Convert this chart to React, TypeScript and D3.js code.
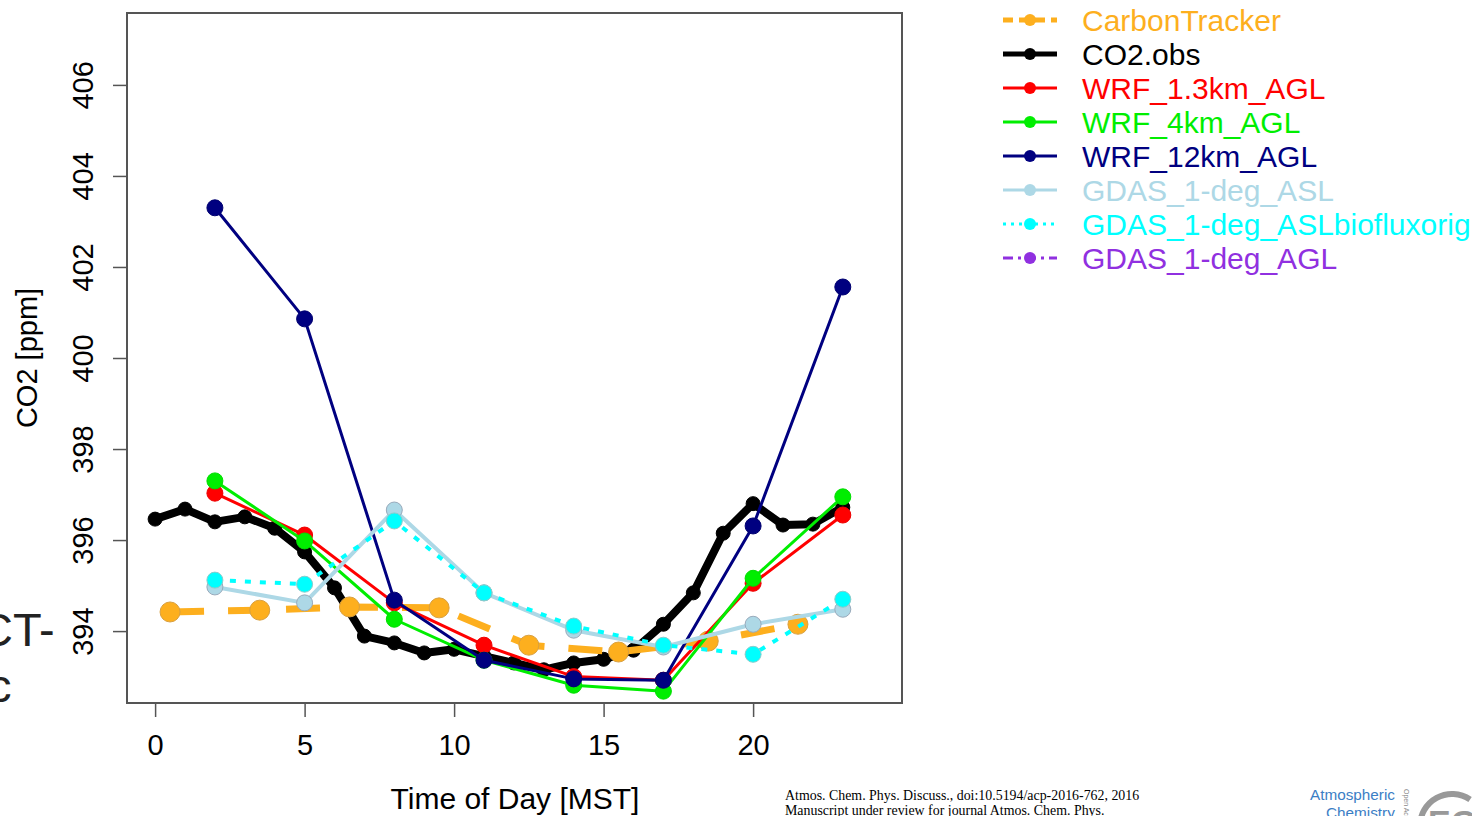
import React, { useEffect, useRef } from "react";
import * as d3 from "d3";

// hours of day (MST)
const obsHours = [0, 1, 2, 3, 4, 5, 6, 7, 8, 9, 10, 11, 12, 13, 14, 15, 16, 17, 18, 19, 20, 21, 22, 23];
const modelHours = [2, 5, 8, 11, 14, 17, 20, 23];
const ctHours = [0.5, 3.5, 6.5, 9.5, 12.5, 15.5, 18.5, 21.5];

// CO2 [ppm]
const co2Obs = [396.46, 396.68, 396.4, 396.51, 396.26, 395.74, 394.95, 393.89, 393.74, 393.52, 393.6, 393.45, 393.3, 393.15, 393.3, 393.38, 393.58, 394.15, 394.84, 396.15, 396.8, 396.33, 396.35, 396.72];
const carbonTracker = [394.42, 394.46, 394.53, 394.51, 393.69, 393.54, 393.78, 394.15];
const wrf13km = [397.03, 396.11, 394.62, 393.69, 393.0, 392.92, 395.05, 396.55];
const wrf4km = [397.3, 395.98, 394.26, 393.36, 392.81, 392.68, 395.16, 396.95];
const wrf12km = [403.3, 400.86, 394.68, 393.36, 392.95, 392.92, 396.31, 401.56];
const gdasAsl = [394.97, 394.62, 396.66, 394.84, 394.02, 393.65, 394.15, 394.48];
const gdasBioflux = [395.12, 395.03, 396.42, 394.84, 394.11, 393.69, 393.49, 394.7];

const yTicks = [394, 396, 398, 400, 402, 404, 406];
const xTicks = [0, 5, 10, 15, 20];

const legendItems = [
  { name: "CarbonTracker", color: "#FDAF1E", dash: "10 6", width: 5 },
  { name: "CO2.obs", color: "#000000", dash: null, width: 5 },
  { name: "WRF_1.3km_AGL", color: "#FF0000", dash: null, width: 3 },
  { name: "WRF_4km_AGL", color: "#00EE00", dash: null, width: 3 },
  { name: "WRF_12km_AGL", color: "#000080", dash: null, width: 3 },
  { name: "GDAS_1-deg_ASL", color: "#ADD8E6", dash: null, width: 3 },
  { name: "GDAS_1-deg_ASLbiofluxorig", color: "#00FFFF", dash: "3 5", width: 3 },
  { name: "GDAS_1-deg_AGL", color: "#9030E0", dash: "10 5 3 5", width: 3 },
];

const FONT = "'Liberation Sans', Arial, Helvetica, sans-serif";

export default function App() {
  const ref = useRef<SVGSVGElement>(null);

  useEffect(() => {
    const svg = d3.select(ref.current);
    svg.selectAll("*").remove();

    const left = 127, right = 902, top = 13, bottom = 703;
    const x = d3.scaleLinear().domain([-0.94, 24.98]).range([left, right]);
    const y = d3.scaleLinear().domain([392.42, 407.58]).range([bottom, top]);
    const line = d3
      .line<[number, number]>()
      .x((d) => x(d[0]))
      .y((d) => y(d[1]));

    svg.append("rect").attr("width", 1472).attr("height", 816).attr("fill", "#fff");

    // slide fragments on the left
    svg.append("text").attr("x", -21).attr("y", 646).attr("font-family", FONT).attr("font-size", 47).attr("fill", "#222").text("CT-");
    svg.append("text").attr("x", -12).attr("y", 702).attr("font-family", FONT).attr("font-size", 47).attr("fill", "#222").text("c");

    // axes
    const yAxis = svg
      .append("g")
      .attr("transform", `translate(${left},0)`)
      .call(d3.axisLeft(y).tickValues(yTicks).tickSize(14).tickFormat(d3.format("d")));
    yAxis.select(".domain").remove();
    yAxis.selectAll(".tick line").attr("stroke", "#555").attr("stroke-width", 1.5);
    yAxis
      .selectAll(".tick text")
      .attr("x", null)
      .attr("dy", null)
      .attr("text-anchor", "middle")
      .attr("transform", `translate(${93 - left},0) rotate(-90)`)
      .attr("font-family", FONT)
      .attr("font-size", 29)
      .attr("fill", "#000");

    const xAxis = svg
      .append("g")
      .attr("transform", `translate(0,${bottom})`)
      .call(d3.axisBottom(x).tickValues(xTicks).tickSize(14));
    xAxis.select(".domain").remove();
    xAxis.selectAll(".tick line").attr("stroke", "#555").attr("stroke-width", 1.5);
    xAxis
      .selectAll(".tick text")
      .attr("y", 52)
      .attr("dy", null)
      .attr("font-family", FONT)
      .attr("font-size", 29)
      .attr("fill", "#000");

    svg
      .append("text")
      .attr("transform", `translate(37,358) rotate(-90)`)
      .attr("text-anchor", "middle")
      .attr("font-family", FONT)
      .attr("font-size", 29)
      .text("CO2 [ppm]");
    svg
      .append("text")
      .attr("x", 515)
      .attr("y", 809)
      .attr("text-anchor", "middle")
      .attr("font-family", FONT)
      .attr("font-size", 30)
      .text("Time of Day [MST]");

    const plot = svg.append("g");
    const drawSeries = (
      xs: number[],
      ys: number[],
      color: string,
      width: number,
      r: number,
      dash: string | null,
      outline: string
    ) => {
      const pts = xs.map((h, i) => [h, ys[i]] as [number, number]);
      plot
        .append("path")
        .attr("d", line(pts))
        .attr("fill", "none")
        .attr("stroke", color)
        .attr("stroke-width", width)
        .attr("stroke-linejoin", "round")
        .attr("stroke-dasharray", dash);
      plot
        .append("g")
        .selectAll("circle")
        .data(pts)
        .enter()
        .append("circle")
        .attr("cx", (d) => x(d[0]))
        .attr("cy", (d) => y(d[1]))
        .attr("r", r)
        .attr("fill", color)
        .attr("stroke", outline)
        .attr("stroke-width", 1);
    };

    drawSeries(obsHours, co2Obs, "#000000", 8, 7, null, "#000");
    drawSeries(ctHours, carbonTracker, "#FDAF1E", 7, 10, "34 24", "#d9a040");
    drawSeries(modelHours, wrf13km, "#FF0000", 3, 8, null, "#e00");
    drawSeries(modelHours, wrf4km, "#00EE00", 3, 8, null, "#0d0");
    drawSeries(modelHours, wrf12km, "#000080", 3, 8, null, "#000070");
    drawSeries(modelHours, gdasAsl, "#ADD8E6", 4, 8, null, "#9ab");
    drawSeries(modelHours, gdasBioflux, "#00FFFF", 4, 8, "6 9", "#8cc");

    // frame
    svg
      .append("rect")
      .attr("x", left)
      .attr("y", top)
      .attr("width", right - left)
      .attr("height", bottom - top)
      .attr("fill", "none")
      .attr("stroke", "#555")
      .attr("stroke-width", 2);

    // legend
    const legend = svg.append("g").attr("transform", "translate(1003,20)");
    legendItems.forEach((item, i) => {
      const g = legend.append("g").attr("transform", `translate(0,${i * 34})`);
      g.append("line")
        .attr("x1", 0)
        .attr("x2", 54)
        .attr("stroke", item.color)
        .attr("stroke-width", item.width)
        .attr("stroke-dasharray", item.dash);
      g.append("circle").attr("cx", 27).attr("r", 6).attr("fill", item.color);
      g.append("text")
        .attr("x", 79)
        .attr("y", 11)
        .attr("font-family", FONT)
        .attr("font-size", 30)
        .attr("fill", item.color)
        .text(item.name);
    });

    // page footer fragments
    const serif = "'Liberation Serif', 'Times New Roman', serif";
    svg.append("text").attr("x", 785).attr("y", 800).attr("font-family", serif).attr("font-size", 13.9)
      .text("Atmos. Chem. Phys. Discuss., doi:10.5194/acp-2016-762, 2016");
    svg.append("text").attr("x", 785).attr("y", 815).attr("font-family", serif).attr("font-size", 13.9)
      .text("Manuscript under review for journal Atmos. Chem. Phys.");
    svg.append("text").attr("x", 1310).attr("y", 800).attr("font-family", FONT).attr("font-size", 15.3)
      .attr("fill", "#3B7EC5").text("Atmospheric");
    svg.append("text").attr("x", 1326).attr("y", 818).attr("font-family", FONT).attr("font-size", 15.3)
      .attr("fill", "#3B7EC5").text("Chemistry");
    svg.append("text").attr("transform", "translate(1404,789) rotate(90)").attr("font-family", FONT)
      .attr("font-size", 7).attr("fill", "#888").text("Open Access");
    svg.append("path")
      .attr("d", d3.arc()({ innerRadius: 29, outerRadius: 35, startAngle: -1.6, endAngle: 0.6 }) as string)
      .attr("transform", "translate(1452,826)")
      .attr("fill", "#999");
    svg.append("text").attr("x", 1428).attr("y", 834).attr("font-family", FONT).attr("font-weight", "bold")
      .attr("font-size", 34).attr("fill", "#999").text("EGU");
  }, []);

  return (
    <svg
      ref={ref}
      width={1472}
      height={816}
      style={{ position: "absolute", left: 0, top: 0, display: "block" }}
    />
  );
}
